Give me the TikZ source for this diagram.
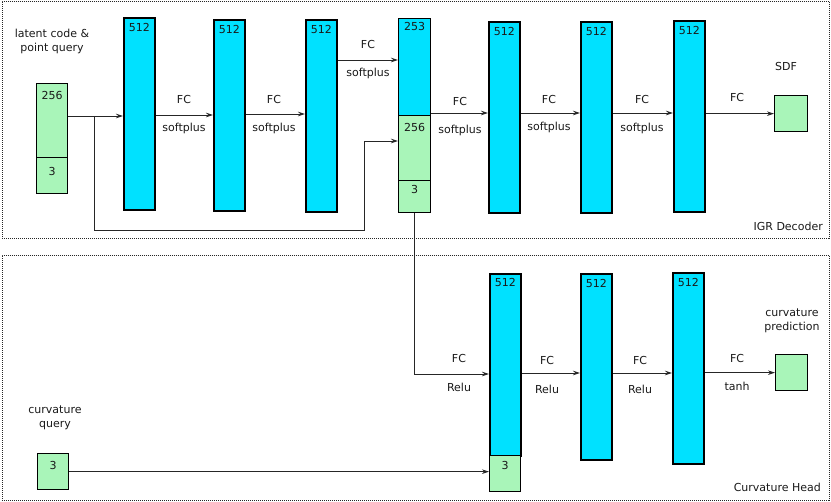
\documentclass[tikz,border=0pt]{standalone}
\usepackage{fontspec}
\setmainfont{DejaVu Sans}
\usetikzlibrary{arrows.meta}
\definecolor{barblue}{HTML}{00E1FF}
\definecolor{boxgreen}{HTML}{A9F5B9}
\begin{document}
\begin{tikzpicture}[x=1pt,y=-1pt,
 every node/.style={font=\fontsize{11}{14}\selectfont, text=black!90},
 bar/.style={draw=black, line width=1.8pt, fill=barblue, anchor=north west, inner sep=0pt, minimum width=31pt},
 gbox/.style={draw=black, line width=1.3pt, fill=boxgreen, anchor=north west, inner sep=0pt, minimum width=31pt},
 num/.style={anchor=north, inner sep=0pt, yshift=-#1},
 num/.default=6.5pt,
 arr/.style={draw=black!85, line width=0.8pt, -{Stealth[length=7pt,width=4.5pt]}},
 wire/.style={draw=black!85, line width=0.8pt},
 frame/.style={draw=black!85, line width=0.9pt, dash pattern=on 1pt off 1pt, anchor=north west, inner sep=0pt},
 lbl/.style={inner sep=0pt, align=center}
]
\useasboundingbox (0,0) rectangle (831,502);
% frames
\node[frame, minimum width=827pt, minimum height=237pt] (igr) at (2,1) {};
\node[frame, minimum width=827pt, minimum height=245pt] (curv) at (2,255) {};
\node[lbl, anchor=east] (igrlbl) at (823,226) {IGR Decoder};
\node[lbl, anchor=east] (curvlbl) at (821,487) {Curvature Head};

% IGR decoder
\node[gbox, minimum height=74pt, label={[num=8.5pt]north:256}] (in256) at (36,83) {};
\node[gbox, minimum height=36pt, label={[num=10.5pt]north:3}] (in3) at (36,157) {};
\node[lbl] (inlbl) at (52,41) {latent code \&\\point query};

\node[bar, minimum height=192pt, label={[num]north:512}] (b1) at (123,17) {};
\node[bar, minimum height=191pt, label={[num]north:512}] (b2) at (213,19) {};
\node[bar, minimum height=192pt, label={[num]north:512}] (b3) at (305,19) {};

\node[bar, line width=1.3pt, minimum width=32pt, minimum height=97pt, label={[num=4.5pt]north:253}] (c253) at (398,18) {};
\node[gbox, minimum width=32pt, minimum height=65pt, label={[num=8.5pt]north:256}] (c256) at (398,115) {};
\node[gbox, minimum width=32pt, minimum height=32pt, label={[num=5.5pt]north:3}] (c3) at (398,180) {};

\node[bar, minimum height=191pt, label={[num]north:512}] (b4) at (488,21) {};
\node[bar, minimum height=191pt, label={[num]north:512}] (b5) at (580,21) {};
\node[bar, minimum height=191pt, label={[num]north:512}] (b6) at (673,20) {};
\node[gbox, minimum width=33pt, minimum height=36pt] (sdf) at (774,95) {};
\node[lbl] (sdflbl) at (786,66) {SDF};

\coordinate (j1) at (94,116);
\coordinate (j2) at (364,230);
\coordinate (j3) at (364,141);
\draw[arr] (in256.east |- j1) -- (b1.west |- j1);
\draw[arr] (j1) |- (j2) -- (j3) -- (c256.west |- j3);

\draw[arr] (b1.east |- 0,115) -- (b2.west |- 0,115);
\node[lbl] (l1a) at (184,99) {FC};
\node[lbl] (l1b) at (184,128) {softplus};
\draw[arr] (b2.east |- 0,114) -- (b3.west |- 0,114);
\node[lbl] (l2a) at (274,100) {FC};
\node[lbl] (l2b) at (274,128) {softplus};
\draw[arr] (b3.east |- 0,60) -- (c253.west |- 0,60);
\node[lbl] (l3a) at (368,45) {FC};
\node[lbl] (l3b) at (368,73) {softplus};
\draw[arr] (c253.east |- 0,113) -- (b4.west |- 0,113);
\node[lbl] (l4a) at (460,102) {FC};
\node[lbl] (l4b) at (460,130) {softplus};
\draw[arr] (b4.east |- 0,113) -- (b5.west |- 0,113);
\node[lbl] (l5a) at (549,99) {FC};
\node[lbl] (l5b) at (549,127) {softplus};
\draw[arr] (b5.east |- 0,113) -- (b6.west |- 0,113);
\node[lbl] (l6a) at (642,100) {FC};
\node[lbl] (l6b) at (642,128) {softplus};
\draw[arr] (b6.east |- sdf.west) -- (sdf.west);
\node[lbl] (l7a) at (737,98) {FC};

% Curvature head
\node[bar, minimum height=182pt, label={[num=5.5pt]north:512}] (b7) at (489,273) {};
\node[gbox, minimum height=36pt, label={[num=6.5pt]north:3}] (g7) at (489,455) {};
\node[bar, minimum height=186pt, label={[num=6.5pt]north:512}] (b8) at (580,273) {};
\node[bar, minimum height=191pt, label={[num=6.5pt]north:512}] (b9) at (672,272) {};
\node[gbox, minimum width=32pt, minimum height=36pt] (out) at (775,354) {};
\node[lbl] (outlbl) at (792,321) {curvature\\prediction};
\node[gbox, minimum height=36pt, label={[num=8.5pt]north:3}] (q3) at (37,453) {};
\node[lbl] (qlbl) at (55,418) {curvature\\query};

\draw[arr] (c3.south) |- (b7.west |- 0,374);
\node[lbl] (m1a) at (459,358) {FC};
\node[lbl] (m1b) at (459,387) {Relu};
\draw[arr] (q3.east) -- (g7.west |- q3.east);
\draw[arr] (b7.east |- 0,373) -- (b8.west |- 0,373);
\node[lbl] (m2a) at (547,360) {FC};
\node[lbl] (m2b) at (547,389) {Relu};
\draw[arr] (b8.east |- 0,373) -- (b9.west |- 0,373);
\node[lbl] (m3a) at (640,360) {FC};
\node[lbl] (m3b) at (640,389) {Relu};
\draw[arr] (b9.east |- out.west) -- (out.west);
\node[lbl] (m4a) at (737,358) {FC};
\node[lbl] (m4b) at (737,386) {tanh};
\end{tikzpicture}
\end{document}
